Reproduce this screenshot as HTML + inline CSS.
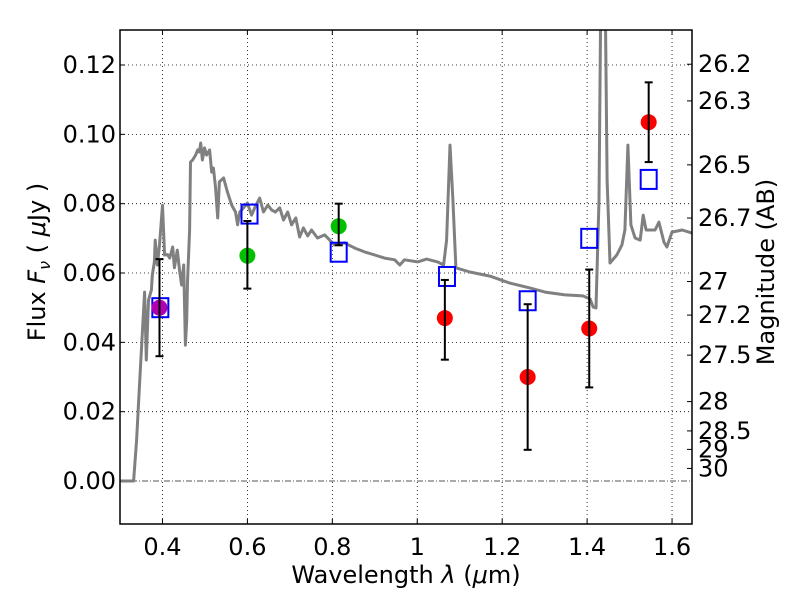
<!DOCTYPE html>
<html><head><meta charset="utf-8"><style>
body{margin:0;background:#fff}
svg text{font-family:"DejaVu Sans","Liberation Sans",sans-serif;fill:#000}
</style></head><body>
<svg id="c" width="800" height="600" xmlns="http://www.w3.org/2000/svg"></svg>
<script>
const specLam=[0.30,0.332,0.339,0.346,0.353,0.358,0.362,0.367,0.374,0.376,0.381,0.383,0.388,0.393,0.400,0.405,0.412,0.417,0.424,0.428,0.435,0.440,0.445,0.450,0.454,0.457,0.459,0.464,0.466,0.471,0.478,0.483,0.487,0.490,0.494,0.499,0.504,0.511,0.516,0.520,0.525,0.530,0.534,0.544,0.553,0.563,0.572,0.577,0.582,0.591,0.600,0.610,0.619,0.629,0.638,0.648,0.657,0.666,0.676,0.685,0.695,0.704,0.714,0.723,0.732,0.742,0.751,0.765,0.782,0.805,0.829,0.853,0.876,0.900,0.923,0.947,0.959,0.970,1.001,1.022,1.048,1.062,1.069,1.077,1.084,1.091,1.124,1.171,1.218,1.265,1.301,1.348,1.390,1.407,1.414,1.421,1.428,1.433,1.442,1.447,1.454,1.470,1.482,1.489,1.496,1.503,1.513,1.525,1.532,1.539,1.560,1.569,1.581,1.588,1.600,1.624,1.647];
const specFlux=[0,0,0.0118,0.0277,0.0436,0.0545,0.0349,0.0522,0.0551,0.0594,0.0632,0.0695,0.0623,0.0681,0.0795,0.0652,0.0653,0.0643,0.0675,0.0615,0.0666,0.0609,0.0565,0.0623,0.0392,0.0464,0.0574,0.0724,0.0920,0.0926,0.0940,0.0955,0.0949,0.0975,0.0926,0.0961,0.0940,0.0955,0.0891,0.0903,0.0848,0.0759,0.0863,0.0874,0.0834,0.0796,0.0776,0.0739,0.0776,0.0788,0.0802,0.0767,0.0793,0.0816,0.0776,0.0796,0.0782,0.0776,0.0788,0.0753,0.0776,0.0739,0.0759,0.0704,0.0730,0.0707,0.0724,0.0701,0.0710,0.0681,0.0687,0.0672,0.0661,0.0652,0.0643,0.0638,0.0623,0.0638,0.0632,0.0640,0.0632,0.0623,0.0695,0.0969,0.0811,0.0615,0.0603,0.0591,0.0571,0.0557,0.0545,0.0537,0.0534,0.0525,0.0502,0.0499,0.0811,0.15,0.15,0.0868,0.0629,0.0652,0.0681,0.0724,0.0969,0.0739,0.0701,0.0695,0.0767,0.0724,0.0724,0.0747,0.0689,0.0675,0.0718,0.0724,0.0715];
const modelLam=[0.395,0.605,0.815,1.07,1.26,1.405,1.545];
const modelFlux=[0.050,0.077,0.066,0.059,0.052,0.070,0.087];
const redLam=[1.065,1.26,1.405,1.545];
const redFlux=[0.047,0.030,0.044,0.1035];
const redLo=[0.035,0.009,0.027,0.092];
const redHi=[0.058,0.051,0.061,0.115];
const greenLam=[0.6,0.815];
const greenFlux=[0.065,0.0735];
const greenLo=[0.0555,0.068];
const greenHi=[0.075,0.080];
const magLam=[0.393];
const magFlux=[0.050];
const magLo=[0.036];
const magHi=[0.064];
const xTicks=[0.4,0.6,0.8,1.0,1.2,1.4,1.6];
const xTickLabels=["0.4","0.6","0.8","1","1.2","1.4","1.6"];
const yTicks=[0,0.02,0.04,0.06,0.08,0.10,0.12];
const yTickLabels=["0.00","0.02","0.04","0.06","0.08","0.10","0.12"];
const magTicks=[26.2,26.3,26.5,26.7,27,27.2,27.5,28,28.5,29,30];

const L=120,R=692,T=30,B=524,X0=0.3,X1=1.647,Y0=-0.0124,Y1=0.1301;
const sx=v=>L+(v-X0)/(X1-X0)*(R-L);
const sy=v=>B-(v-Y0)/(Y1-Y0)*(B-T);
const svg=document.getElementById('c');
const NS='http://www.w3.org/2000/svg';
function mk(tag,attrs,parent){const e=document.createElementNS(NS,tag);for(const k in attrs)e.setAttribute(k,attrs[k]);(parent||svg).appendChild(e);return e;}

const defs=mk('defs',{});
const cp=mk('clipPath',{id:'clip'},defs);
mk('rect',{x:L,y:T,width:R-L,height:B-T},cp);

const FS=24;
xTicks.forEach((t,i)=>{
  const g=mk('line',{x1:sx(t),x2:sx(t),y1:T,y2:B,stroke:'#000','stroke-width':0.8,'stroke-dasharray':'1,3'});
  
  
  mk('line',{x1:sx(t),x2:sx(t),y1:B,y2:B-5,stroke:'#000'});
  mk('line',{x1:sx(t),x2:sx(t),y1:T,y2:T+5,stroke:'#000'});
  const tx=mk('text',{x:sx(t),y:B+31,'text-anchor':'middle','font-size':FS});
  tx.textContent=xTickLabels[i];
  
  
});
yTicks.forEach((t,i)=>{
  if(t!==0){
    const g=mk('line',{x1:L,x2:R,y1:sy(t),y2:sy(t),stroke:'#000','stroke-width':0.8,'stroke-dasharray':'1,3'});
    
    
  }
  mk('line',{x1:L,x2:L+5,y1:sy(t),y2:sy(t),stroke:'#000'});
  const tx=mk('text',{x:L-4,y:sy(t)+8,'text-anchor':'end','font-size':FS});
  tx.textContent=yTickLabels[i];
  
  
});
const zl=mk('line',{x1:L,x2:R,y1:sy(0),y2:sy(0),stroke:'#555','stroke-width':1,'stroke-dasharray':'6,2,1,2'});



magTicks.forEach(m=>{
  const f=Math.pow(10,(23.9-m)/2.5);
  mk('line',{x1:R,x2:R-5,y1:sy(f),y2:sy(f),stroke:'#000'});
  const tx=mk('text',{x:R+6,y:sy(f)+8,'text-anchor':'start','font-size':FS});
  tx.textContent=String(m);
  
  
});

const d=specLam.map((l,i)=>(i?'L':'M')+sx(l).toFixed(1)+','+sy(specFlux[i]).toFixed(1)).join(' ');
const sp=mk('path',{d:d,fill:'none',stroke:'#808080','stroke-width':3,'clip-path':'url(#clip)','stroke-linejoin':'round'});



function errbar(x,lo,hi){
  const g=mk('g',{stroke:'#000','stroke-width':2});
  
  
  mk('line',{x1:sx(x),x2:sx(x),y1:sy(lo),y2:sy(hi)},g);
  mk('line',{x1:sx(x)-4,x2:sx(x)+4,y1:sy(lo),y2:sy(lo)},g);
  mk('line',{x1:sx(x)-4,x2:sx(x)+4,y1:sy(hi),y2:sy(hi)},g);
}
modelLam.forEach((l,i)=>{
  const r=mk('rect',{x:sx(l)-8,y:sy(modelFlux[i])-9.5,width:16,height:19,fill:'none',stroke:'#0000ff','stroke-width':2});
  
  
});
magLam.forEach((l,i)=>{
  const c=mk('circle',{cx:sx(l),cy:sy(magFlux[i]),r:8,fill:'#b000b0'});
  
  
  errbar(l,magLo[i],magHi[i]);
});
greenLam.forEach((l,i)=>{
  const c=mk('circle',{cx:sx(l),cy:sy(greenFlux[i]),r:8,fill:'#00c000'});
  
  
  errbar(l,greenLo[i],greenHi[i]);
});
redLam.forEach((l,i)=>{
  const c=mk('circle',{cx:sx(l),cy:sy(redFlux[i]),r:8,fill:'#ff0000'});
  
  
  errbar(l,redLo[i],redHi[i]);
});

const fr=mk('rect',{x:L,y:T,width:R-L,height:B-T,fill:'none',stroke:'#000','stroke-width':1.5});



const xl=mk('text',{x:406,y:583,'text-anchor':'middle','font-size':24});
xl.innerHTML='Wavelength  <tspan font-style="italic">λ</tspan> (<tspan font-style="italic">μ</tspan>m)';


const yl=mk('text',{x:0,y:0,'text-anchor':'middle','font-size':24,transform:'translate(45,262) rotate(-90)'});
yl.innerHTML='Flux  <tspan font-style="italic">F</tspan><tspan font-style="italic" font-size="16" dy="5">ν</tspan><tspan dy="-5">  (  </tspan><tspan font-style="italic">μ</tspan>Jy )';


const yr=mk('text',{x:0,y:0,'text-anchor':'middle','font-size':24,transform:'translate(774,272) rotate(-90)'});
yr.textContent='Magnitude (AB)';


</script>
</body></html>
